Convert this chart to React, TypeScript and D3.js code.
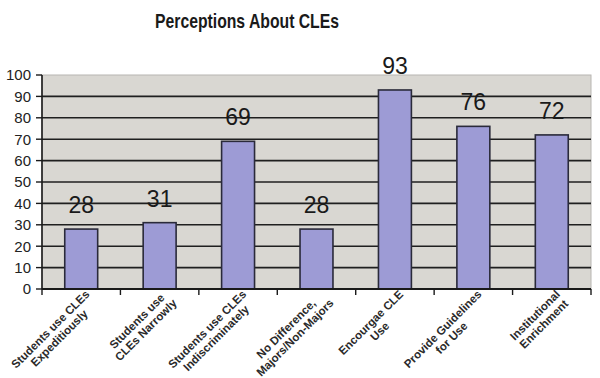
import React, { useEffect, useRef } from "react";
import * as d3 from "d3";

const categories: string[][] = [
  ["Students use CLEs", "Expeditiously"],
  ["Students use", "CLEs Narrowly"],
  ["Students use CLEs", "Indiscriminately"],
  ["No Difference,", "Majors/Non-Majors"],
  ["Encourgae CLE", "Use"],
  ["Provide Guidelines", "for Use"],
  ["Institutional", "Enrichment"],
];
const values: number[] = [28, 31, 69, 28, 93, 76, 72];
const yTicks: number[] = [0, 10, 20, 30, 40, 50, 60, 70, 80, 90, 100];
const title = "Perceptions About CLEs";

export default function App() {
  const ref = useRef<SVGSVGElement>(null);

  useEffect(() => {
    const svg = d3.select(ref.current);
    svg.selectAll("*").remove();
    const W = 600, H = 378;
    const left = 42, right = 591, top = 75, bottom = 289;
    const font = "Arial, 'Liberation Sans', sans-serif";

    const x = d3.scaleBand<number>().domain(d3.range(values.length)).range([left, right]).padding(0);
    const y = d3.scaleLinear().domain([0, 100]).range([bottom, top]);

    svg.append("rect").attr("width", W).attr("height", H).attr("fill", "#ffffff");

    // title
    svg.append("text")
      .attr("x", 247).attr("y", 28)
      .attr("text-anchor", "middle")
      .attr("font-family", font).attr("font-weight", "bold").attr("font-size", 21)
      .attr("textLength", 184).attr("lengthAdjust", "spacingAndGlyphs")
      .attr("fill", "#1a1a1a")
      .text(title);

    // plot background
    svg.append("rect")
      .attr("x", left).attr("y", top).attr("width", right - left).attr("height", bottom - top)
      .attr("fill", "#d9d7d2").attr("stroke", "#b8b6b2").attr("stroke-width", 1);

    // gridlines
    svg.append("g").selectAll("line").data(yTicks.filter((t) => t > 0 && t < 100)).join("line")
      .attr("x1", left).attr("x2", right)
      .attr("y1", (d) => y(d)).attr("y2", (d) => y(d))
      .attr("stroke", "#1f1f1f").attr("stroke-width", 1.6);

    // bars
    const bw = x.bandwidth() * 0.42;
    svg.append("g").selectAll("rect").data(values).join("rect")
      .attr("x", (_d, i) => (x(i) as number) + x.bandwidth() / 2 - bw / 2)
      .attr("y", (d) => y(d))
      .attr("width", bw)
      .attr("height", (d) => bottom - y(d))
      .attr("fill", "#9d9bd5").attr("stroke", "#2a2a3a").attr("stroke-width", 1.6);

    // data labels
    svg.append("g").selectAll("text").data(values).join("text")
      .attr("x", (_d, i) => (x(i) as number) + x.bandwidth() / 2)
      .attr("y", (d) => y(d) - 16)
      .attr("text-anchor", "middle")
      .attr("font-family", font).attr("font-size", 23)
      .attr("fill", "#1a1a1a")
      .text((d) => String(d));

    // axes lines
    svg.append("line").attr("x1", left).attr("x2", left).attr("y1", top).attr("y2", bottom)
      .attr("stroke", "#1a1a1a").attr("stroke-width", 1.6);
    svg.append("line").attr("x1", left).attr("x2", right).attr("y1", bottom).attr("y2", bottom)
      .attr("stroke", "#1a1a1a").attr("stroke-width", 1.8);

    // y ticks
    const yg = svg.append("g");
    yg.selectAll("line").data(yTicks).join("line")
      .attr("x1", left - 6).attr("x2", left).attr("y1", (d) => y(d)).attr("y2", (d) => y(d))
      .attr("stroke", "#1a1a1a").attr("stroke-width", 1.4);
    yg.selectAll("text").data(yTicks).join("text")
      .attr("x", 31).attr("y", (d) => y(d)).attr("dy", "0.36em")
      .attr("text-anchor", "end")
      .attr("font-family", font).attr("font-size", 15).attr("fill", "#222")
      .text((d) => String(d));

    // x ticks at band boundaries
    const bounds = d3.range(values.length + 1).map((i) => left + i * x.step());
    svg.append("g").selectAll("line").data(bounds).join("line")
      .attr("x1", (d) => d).attr("x2", (d) => d).attr("y1", bottom).attr("y2", bottom + 6)
      .attr("stroke", "#1a1a1a").attr("stroke-width", 1.4);

    // x labels rotated
    const xl = svg.append("g");
    const fs = 11.5;
    categories.forEach((lines, i) => {
      const cx = (x(i) as number) + x.bandwidth() / 2 + 9;
      const g = xl.append("g").attr("transform", `translate(${cx},${bottom + 6}) rotate(-45)`);
      const t1 = g.append("text")
        .attr("x", 0).attr("y", 0)
        .attr("text-anchor", "end")
        .attr("font-family", font).attr("font-weight", "bold").attr("font-size", fs)
        .attr("fill", "#2a2a2a")
        .text(lines[0]);
      const w1 = (t1.node() as SVGTextElement).getComputedTextLength();
      const t2 = g.append("text")
        .attr("x", -w1 / 2).attr("y", 12.5)
        .attr("text-anchor", "middle")
        .attr("font-family", font).attr("font-weight", "bold").attr("font-size", fs)
        .attr("fill", "#2a2a2a")
        .text(lines[1]);
      const w2 = (t2.node() as SVGTextElement).getComputedTextLength();
      if (w2 > w1) {
        t1.attr("x", -(w2 - w1) / 2);
        t2.attr("x", -w2 / 2);
      }
    });
  }, []);

  return (
    <svg
      ref={ref}
      width={600}
      height={378}
      style={{ position: "absolute", left: 0, top: 0, display: "block" }}
    />
  );
}
